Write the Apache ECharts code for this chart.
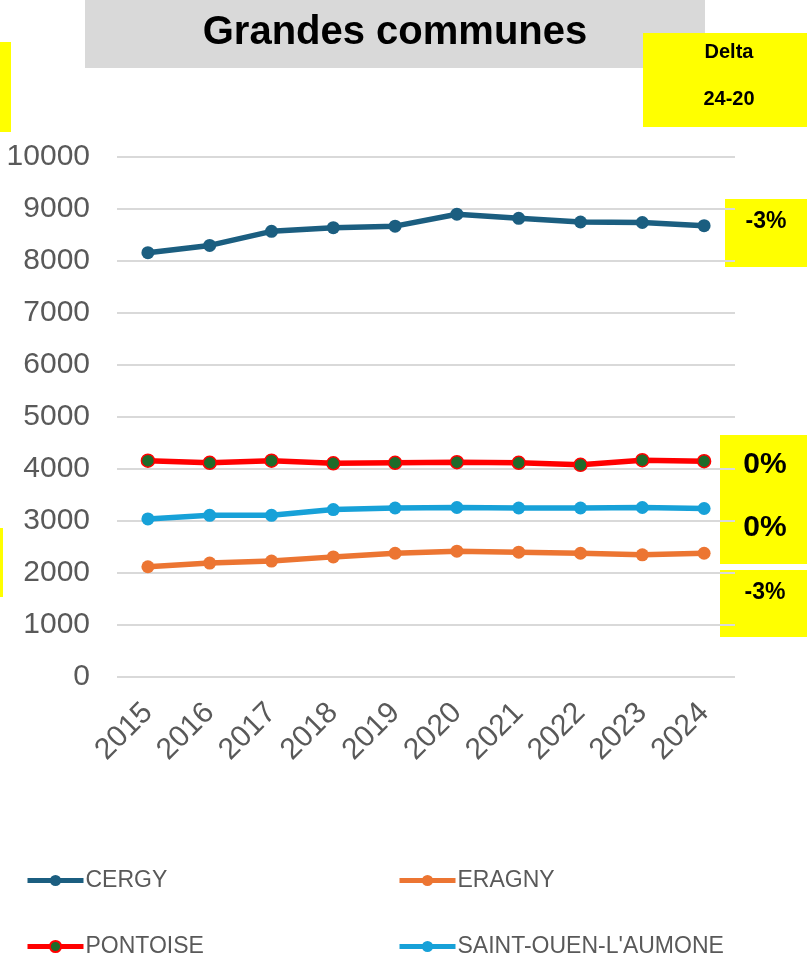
<!DOCTYPE html>
<html>
<head>
<meta charset="utf-8">
<script src="https://cdn.jsdelivr.net/npm/echarts@6/dist/echarts.min.js"></script>
<style>
  html, body { margin: 0; padding: 0; background: #fff; }
  #chart { width: 807px; height: 959px; }
</style>
</head>
<body>
<div id="chart"></div>
<script>
  const years = ['2015', '2016', '2017', '2018', '2019', '2020', '2021', '2022', '2023', '2024']
  const cergy = [8160, 8300, 8570, 8640, 8670, 8900, 8820, 8750, 8740, 8680]
  const eragny = [2120, 2190, 2230, 2310, 2380, 2420, 2400, 2380, 2350, 2380]
  const pontoise = [4160, 4120, 4160, 4110, 4120, 4130, 4120, 4080, 4170, 4150]
  const saintOuen = [3040, 3110, 3110, 3220, 3250, 3260, 3250, 3250, 3260, 3240]

  const font = 'Liberation Sans, Arial, sans-serif'
  const grey = '#595959'

  // yellow annotation boxes (Delta 24-20)
  function box(x, y, w, h, lines, size) {
    const kids = [{ type: 'rect', shape: { x: 0, y: 0, width: w, height: h }, style: { fill: '#FFFF00' } }]
    lines.forEach(function (l) {
      kids.push({
        type: 'text', x: l.x, y: l.y,
        style: { text: l.t, fill: '#000', font: 'bold ' + size + 'px ' + font, align: 'center', verticalAlign: 'middle' }
      })
    })
    return { type: 'group', x: x, y: y, children: kids }
  }

  const chart = echarts.init(document.getElementById('chart'))
  chart.setOption({
    animation: false,
    grid: { left: 117, right: 72, top: 157, bottom: 282, containLabel: false, outerBoundsMode: 'none' },
    graphic: [
      { type: 'rect', shape: { x: 85, y: 0, width: 620, height: 68 }, style: { fill: '#D9D9D9' } },
      { type: 'text', x: 395, y: 33, style: { text: 'Grandes communes', fill: '#000', font: 'bold 40px ' + font, align: 'center', verticalAlign: 'middle' } },
      { type: 'rect', shape: { x: 0, y: 42, width: 11, height: 90 }, style: { fill: '#FFFF00' } },
      { type: 'rect', shape: { x: 0, y: 528, width: 3, height: 69 }, style: { fill: '#FFFF00' } },
      box(643, 33, 164, 94, [{ t: 'Delta', x: 86, y: 19 }, { t: '24-20', x: 86, y: 66 }], 20),
      box(725, 199, 82, 68, [{ t: '-3%', x: 41, y: 23 }], 23),
      box(720, 435, 87, 129, [{ t: '0%', x: 45, y: 30 }, { t: '0%', x: 45, y: 93 }], 30),
      box(720, 570, 87, 67, [{ t: '-3%', x: 45, y: 23 }], 23)
    ],
    legend: [
      { data: ['CERGY'], left: 20, top: 864 },
      { data: ['ERAGNY'], left: 392, top: 864 },
      { data: ['PONTOISE'], left: 20, top: 930 },
      { data: ['SAINT-OUEN-L\'AUMONE'], left: 392, top: 930 }
    ].map(function (l) {
      return Object.assign(l, {
        itemWidth: 56, itemHeight: 14, itemGap: 0,
        lineStyle: { width: 5 },
        textStyle: { fontFamily: font, fontSize: 23, color: grey, padding: [0, 0, 0, -3] }
      })
    }),
    xAxis: {
      type: 'category',
      data: years,
      boundaryGap: true,
      axisLine: { show: false },
      axisTick: { show: false },
      axisLabel: { rotate: 45, margin: 31, fontFamily: font, fontSize: 30, color: grey }
    },
    yAxis: {
      type: 'value',
      min: 0,
      max: 10000,
      interval: 1000,
      axisLabel: { margin: 27, fontFamily: font, fontSize: 30, color: grey, formatter: function (v) { return String(v) } },
      splitLine: { lineStyle: { color: '#D9D9D9', width: 2 } }
    },
    series: [
      {
        name: 'CERGY', type: 'line', data: cergy,
        symbol: 'circle', symbolSize: 13,
        lineStyle: { color: '#1B5E80', width: 5.5 },
        itemStyle: { color: '#1B5E80' }
      },
      {
        name: 'ERAGNY', type: 'line', data: eragny,
        symbol: 'circle', symbolSize: 13,
        lineStyle: { color: '#EC7532', width: 5.5 },
        itemStyle: { color: '#EC7532' }
      },
      {
        name: 'PONTOISE', type: 'line', data: pontoise,
        symbol: 'circle', symbolSize: 13,
        lineStyle: { color: '#FF0000', width: 5.5 },
        itemStyle: { color: '#1E6B2A', borderColor: '#FF0000', borderWidth: 1.5 }
      },
      {
        name: 'SAINT-OUEN-L\'AUMONE', type: 'line', data: saintOuen,
        symbol: 'circle', symbolSize: 13,
        lineStyle: { color: '#17A1D8', width: 5.5 },
        itemStyle: { color: '#17A1D8' }
      }
    ]
  })
</script>
</body>
</html>
